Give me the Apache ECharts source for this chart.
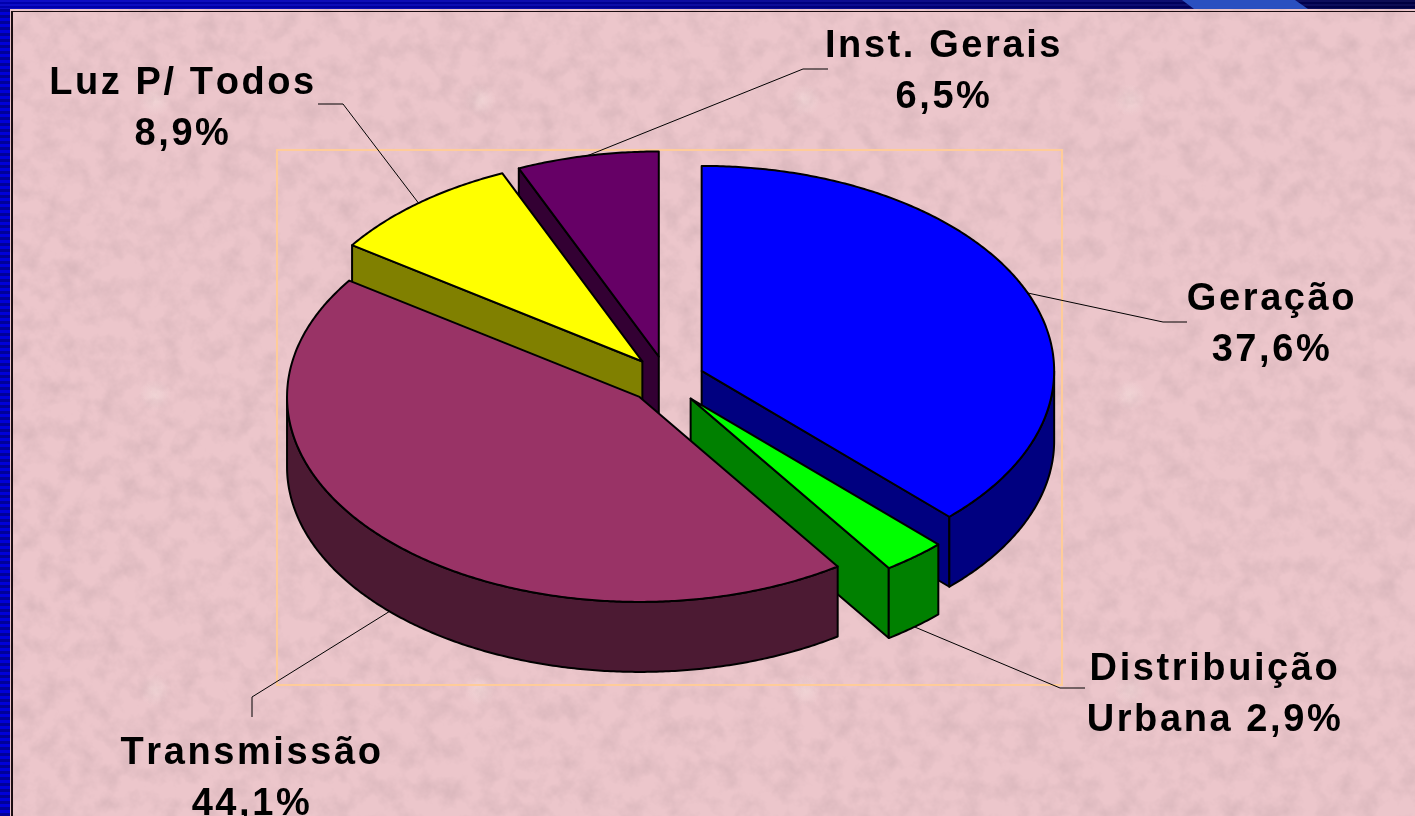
<!DOCTYPE html>
<html>
<head>
<meta charset="utf-8">
<script src="https://cdn.jsdelivr.net/npm/echarts@6/dist/echarts.min.js"></script>
<style>
html,body{margin:0;padding:0;width:1415px;height:816px;overflow:hidden;background:#ebc5ca;}
#paper{position:absolute;left:0;top:0;width:1415px;height:816px;background-color:#ecc6cb;
background-image:
 url("data:image/svg+xml;utf8,<svg xmlns='http://www.w3.org/2000/svg' width='1415' height='816'><filter id='n' x='0' y='0' width='100%' height='100%'><feTurbulence type='fractalNoise' baseFrequency='0.05' numOctaves='4' seed='7'/><feColorMatrix values='0 0 0 0 0.62  0 0 0 0 0.42  0 0 0 0 0.45  1.1 0 0 0 -0.42'/></filter><rect width='1415' height='816' filter='url(%23n)'/></svg>"),
 radial-gradient(circle at 155px 100px,rgba(245,228,225,.45) 0,rgba(245,228,225,0) 16px);
background-size:1415px 816px,325px 295px;}
#left{position:absolute;left:0;top:0;width:10px;height:816px;background:repeating-linear-gradient(180deg,#0000d8 0,#0000d8 3px,#000098 3px,#000098 6px);}
#top{position:absolute;left:0;top:0;width:1415px;height:9px;background:repeating-linear-gradient(180deg,rgba(255,255,255,.05) 0,rgba(255,255,255,.05) 2px,rgba(0,0,0,.12) 2px,rgba(0,0,0,.12) 4px),linear-gradient(90deg,#0000c4 0,#0000a8 40%,#00006c 80%,#000048 100%);}
#swoosh{position:absolute;left:1180px;top:0;width:130px;height:9px;background:#2a50c0;clip-path:polygon(2px 0,115px 0,128px 9px,14px 9px);}
#ruleH{position:absolute;left:11px;top:11px;width:1404px;height:1px;background:#1a0c10;}
#ruleV{position:absolute;left:11px;top:11px;width:2px;height:805px;background:#1a0c10;}
#chart{position:absolute;left:0;top:0;width:1415px;height:816px;}
</style>
</head>
<body>
<div id="paper"></div><div id="left"></div><div id="top"></div><div id="swoosh"></div><div id="ruleH"></div><div id="ruleV"></div>
<div id="chart"></div>
<script>
// ---- chart data ----
const categories = ['Geração\n', 'Distribuição\nUrbana ', 'Transmissão\n', 'Luz P/ Todos\n', 'Inst. Gerais\n'];
const shares = [37.6, 2.9, 44.1, 8.9, 6.5];
const topColors = ['#0000FF', '#00FF00', '#993366', '#FFFF00', '#660066'];
const sideColors = ['#000080', '#008000', '#4C1A33', '#808000', '#330033'];
const paintRank = [2, 3, 4, 1, 0];

// ---- 3D projection of the pie ----
const centre = [666.5, 380], radiusX = 352.5, radiusY = 205, explodeX = 38, explodeY = 24, depth = 70;
const labelCentre = [[1272, 325], [1215, 695], [252, 779], [183, 109], [944, 72]];
const leaderBend = [[[1163, 322], [1187, 322]], [[1060, 688], [1085, 688]], [[252, 697], [252, 717]], [[343, 104], [318, 104]], [[803, 69], [828, 69]]];

// letter spacing of the labels: applied to every canvas context
const getCtx = HTMLCanvasElement.prototype.getContext;
HTMLCanvasElement.prototype.getContext = function () {
  const c = getCtx.apply(this, arguments);
  if (c && 'letterSpacing' in c) { c.letterSpacing = '2.6px'; c.fontKerning = 'none'; }
  return c;
};

const total = shares.reduce((a, b) => a + b, 0);
const DEG = Math.PI / 180;
function renderSlice(params, api) {
  const i = params.dataIndex;
  let before = 0;
  for (let k = 0; k < i; k++) before += shares[k];
  const value = api.value(0);
  const a0 = before / total * 360, a1 = (before + value) / total * 360, mid = (a0 + a1) / 2;
  const apex = [centre[0] + explodeX * Math.sin(mid * DEG), centre[1] - explodeY * Math.cos(mid * DEG)];
  const rim = (a, drop) => [apex[0] + radiusX * Math.sin(a * DEG), apex[1] - radiusY * Math.cos(a * DEG) + (drop || 0)];
  const sweep = (from, to, drop) => {
    const pts = [], n = Math.max(2, Math.ceil((to - from) * 2));
    for (let s = 0; s <= n; s++) pts.push(rim(from + (to - from) * s / n, drop));
    return pts;
  };
  const z = paintRank[i] * 10 + 10;
  const face = (points, fill, z2) => ({
    type: 'polygon', z2, shape: { points },
    style: { fill, stroke: '#000', lineWidth: 2, lineJoin: 'round' }
  });
  const kids = [];
  const dropApex = [apex[0], apex[1] + depth];
  // radial walls turned to the viewer
  if (Math.sin(a0 * DEG) < 0) kids.push(face([apex, rim(a0), rim(a0, depth), dropApex], sideColors[i], z));
  if (Math.sin(a1 * DEG) > 0) kids.push(face([apex, rim(a1), rim(a1, depth), dropApex], sideColors[i], z));
  // outer wall, front half only
  const f0 = Math.max(a0, 90), f1 = Math.min(a1, 270);
  if (f1 > f0) kids.push(face(sweep(f0, f1, 0).concat(sweep(f0, f1, depth).reverse()), sideColors[i], z + 1));
  // top face
  kids.push(face([apex].concat(sweep(a0, a1, 0)), topColors[i], z + 2));
  // leader line and label
  const cos = Math.cos(mid * DEG);
  const start = rim(mid, cos < 0 ? depth : 0);
  kids.push({
    type: 'polyline', z2: 1, shape: { points: [start].concat(leaderBend[i]) },
    style: { fill: null, stroke: '#000', lineWidth: 1 }
  });
  const pct = value.toFixed(1).replace('.', ',') + '%';
  kids.push({
    type: 'text', z2: 100,
    style: {
      x: labelCentre[i][0], y: labelCentre[i][1], text: categories[i] + pct,
      font: 'bold 38px "Liberation Sans", Arial, sans-serif', fill: '#000',
      align: 'center', verticalAlign: 'middle', lineHeight: 50.5
    }
  });
  return { type: 'group', children: kids };
}

const chart = echarts.init(document.getElementById('chart'), null, { renderer: 'canvas' });
chart.setOption({
  animation: false,
  backgroundColor: 'transparent',
  graphic: [{
    type: 'rect', z: 0, silent: true,
    shape: { x: 277, y: 150, width: 785, height: 535 },
    style: { fill: null, stroke: '#FFCC99', lineWidth: 2 }
  }],
  series: [{
    type: 'custom', coordinateSystem: 'none', silent: true, z: 2,
    data: shares.map((v, i) => ({ value: [v], name: categories[i].trim() })),
    renderItem: renderSlice
  }]
});
</script>
</body>
</html>
